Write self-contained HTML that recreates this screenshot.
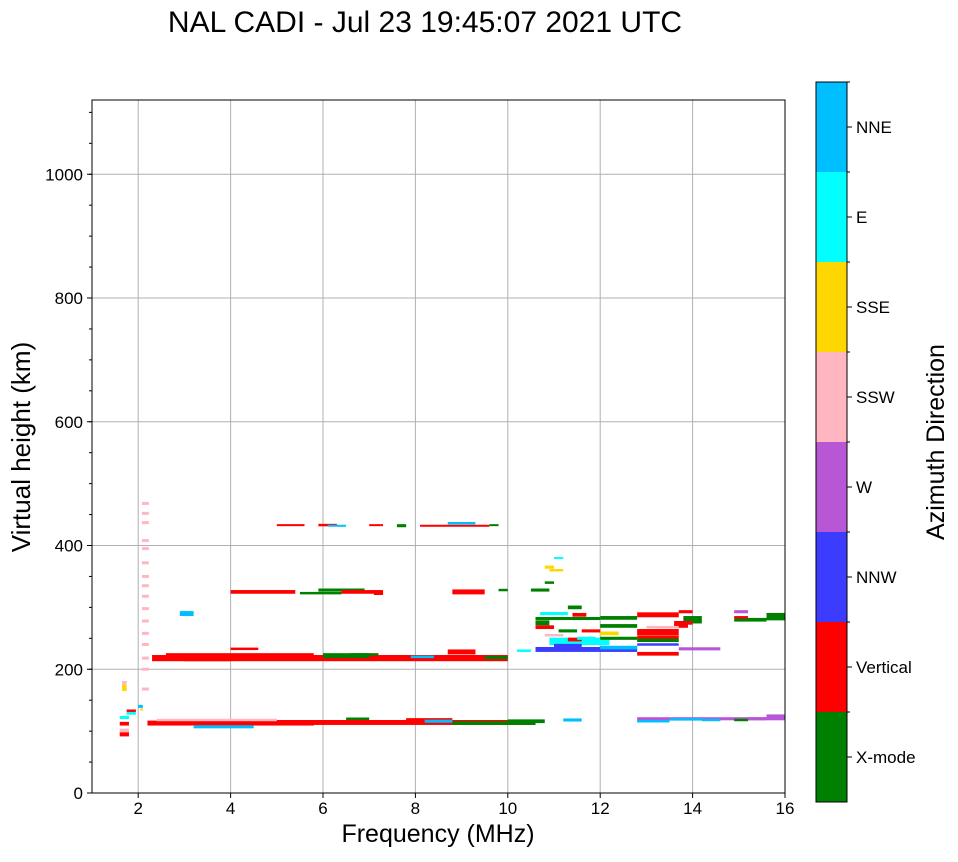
<!DOCTYPE html>
<html><head><meta charset="utf-8"><style>
body{margin:0;background:#fff;font-family:"Liberation Sans",sans-serif;}
svg text{font-family:"Liberation Sans",sans-serif;}
</style></head><body>
<svg id="c" width="958" height="857">
<text x="425" y="32" font-size="30" text-anchor="middle">NAL CADI - Jul 23 19:45:07 2021 UTC</text>
<g id="grid"></g><g id="marks"></g><g id="axes"></g><g id="cbar"></g>
</svg>
<script>
const xTicks=[2,4,6,8,10,12,14,16];
const yTicks=[0,200,400,600,800,1000];
const directions=["X-mode","Vertical","NNW","W","SSW","SSE","E","NNE"];
const dirColors=["#008000","#ff0000","#3c3cff","#b857d6","#ffb6c1","#ffd700","#00ffff","#00bfff"];
// segments: freq start, freq end, height (km), thickness (km), direction index
const segF0=[2.2,3.2,4.5,2.4,6.5,10.0,7.8,8.2,8.8,11.2,12.8,12.8,13.5,14.2,14.9,15.2,15.6,13.5,
1.6,1.6,1.6,1.6,1.65,1.65,1.75,1.75,2.0,2.05,
2.3,2.6,3.0,4.0,6.0,8.7,6.6,7.9,9.5,2.9,
3.0,4.0,5.9,6.4,8.8,7.1,5.5,9.8,10.5,
5.0,5.9,6.1,7.0,8.1,8.7,9.6,7.6,
10.6,10.9,11.0,12.0,12.8,12.8,12.8,13.7,12.0,12.0,13.8,14.9,15.6,12.8,10.8,10.6,11.3,10.2,13.7,14.9,10.8,11.0,11.3,12.0,13.6,10.8,10.9,
10.6,11.4,12.0,12.8,13.6,13.0,10.6,11.1,11.6,12.8,14.9,10.7,11.5];
const segF1=[5.8,4.5,10.6,5.0,7.0,10.8,8.8,8.8,10.6,11.6,13.5,13.5,16.0,14.6,15.2,15.6,16.0,14.2,
1.8,1.8,1.8,1.8,1.75,1.75,1.95,1.95,2.1,2.1,
10.0,5.8,4.0,4.6,7.0,9.3,7.2,8.4,10.0,3.1,
3.2,5.4,6.9,7.3,9.5,7.3,6.4,10.0,10.9,
5.6,6.3,6.5,7.3,9.6,9.3,9.8,7.8,
12.8,12.2,11.6,12.8,13.7,13.7,13.7,14.6,12.8,12.8,14.2,15.6,16.0,13.7,11.2,10.9,11.6,10.5,14.0,15.2,11.0,11.2,11.6,12.4,13.9,11.0,11.2,
12.0,11.7,12.8,13.7,14.0,13.7,11.0,11.5,12.0,13.7,15.2,11.3,11.9];
const segH=[113,107,114,118,120,116,118,116,113,118,120,116,120,118,118,120,124,119,
95,101,112,122,170,178,129,133,140,135,
218,222,216,233,222,228,224,220,219,290,
290,325,328,325,325,322,323,328,328,
433,433,432,433,432,436,433,432,
232,245,238,283,288,260,225,233,235,270,280,280,285,240,255,275,248,230,293,293,365,380,300,258,270,340,360,
282,288,250,247,275,268,268,262,262,252,284,290,250];
const segDH=[8,5,8,4,4,6,6,5,6,5,5,4,5,4,4,5,6,4,
7,6,6,5,10,6,5,4,5,4,
10,8,6,4,8,8,4,4,5,8,
8,6,5,6,8,4,4,4,5,
3,4,3,3,3,4,3,5,
8,12,6,6,8,10,6,5,6,6,12,6,12,4,4,8,6,4,5,5,5,3,6,6,6,4,4,
5,6,5,6,6,4,6,5,5,5,4,5,5];
const segC=[1,7,1,4,0,0,1,7,0,7,3,7,3,7,0,3,3,7,
1,4,1,6,5,4,6,1,7,5,
1,1,1,1,0,1,0,7,0,7,
7,1,0,1,1,1,0,0,0,
1,1,7,1,1,7,0,0,
2,6,2,0,1,1,1,3,7,0,0,0,0,2,4,0,1,6,1,3,5,6,0,5,1,0,5,
0,1,0,0,1,4,1,0,1,1,1,6,6];
const NS="http://www.w3.org/2000/svg";
const L=92,R=785,T=100,B=793,fMin=1,fMax=16,hMin=0,hMax=1120;
const xs=f=>L+(f-fMin)/(fMax-fMin)*(R-L);
const ys=h=>B-(h-hMin)/(hMax-hMin)*(B-T);
function mk(tag,at,parent){const e=document.createElementNS(NS,tag);for(const k in at)e.setAttribute(k,at[k]);parent.appendChild(e);return e;}
const grid=document.getElementById('grid'),marks=document.getElementById('marks'),axes=document.getElementById('axes'),cb=document.getElementById('cbar');
xTicks.forEach(t=>{const l=mk('line',{x1:xs(t),x2:xs(t),y1:T,y2:B,stroke:'#b0b0b0','stroke-width':1},grid);

});
yTicks.forEach(t=>{const l=mk('line',{x1:L,x2:R,y1:ys(t),y2:ys(t),stroke:'#b0b0b0','stroke-width':1},grid);

});
for(let i=0;i<segF0.length;i++){
 const y1=ys(segH[i]+segDH[i]/2),y2=ys(segH[i]-segDH[i]/2);
 const r=mk('rect',{x:xs(segF0[i]),y:y1,width:Math.max(2,xs(segF1[i])-xs(segF0[i])),height:Math.max(2,y2-y1),fill:dirColors[segC[i]]},marks);
 
 
}
const dashH=[168,200,218,240,258,278,298,318,335,350,372,395,408,437,452,468];
dashH.forEach(h=>{const r=mk('rect',{x:xs(2.08),y:ys(h)-1.5,width:7,height:3,fill:dirColors[4]},marks);

});
const fr=mk('rect',{x:L,y:T,width:R-L,height:B-T,fill:'none',stroke:'#000','stroke-width':1},axes);


xTicks.forEach(t=>{mk('line',{x1:xs(t),x2:xs(t),y1:B,y2:B+5,stroke:'#000'},axes);
 const tx=mk('text',{x:xs(t),y:B+21,'font-size':17,'text-anchor':'middle'},axes);tx.textContent=t;
 
 });
for(let h=50;h<hMax;h+=50){mk('line',{x1:L-3,x2:L,y1:ys(h),y2:ys(h),stroke:'#000'},axes);}
yTicks.forEach(t=>{mk('line',{x1:L-5,x2:L,y1:ys(t),y2:ys(t),stroke:'#000'},axes);
 const tx=mk('text',{x:L-9,y:ys(t)+6,'font-size':17,'text-anchor':'end'},axes);tx.textContent=t;
 
 });
const xl=mk('text',{x:438,y:842,'font-size':25,'text-anchor':'middle'},axes);xl.textContent='Frequency (MHz)';


const yl=mk('text',{x:0,y:0,'font-size':26,'text-anchor':'middle',transform:'translate(30,447) rotate(-90)'},axes);yl.textContent='Virtual height (km)';


const cT=82,cB=802,cL=816,cW=31,seg=(cB-cT)/directions.length;
directions.forEach((d,i)=>{const y=cB-(i+1)*seg;
 const r=mk('rect',{x:cL,y:y,width:cW,height:seg,fill:dirColors[i]},cb);
 
 
 mk('line',{x1:cL+cW,x2:cL+cW+5,y1:y+seg/2,y2:y+seg/2,stroke:'#000'},cb);
 mk('line',{x1:cL+cW,x2:cL+cW+3,y1:y,y2:y,stroke:'#000'},cb);
 const t=mk('text',{x:cL+cW+9,y:y+seg/2+6,'font-size':17},cb);t.textContent=d;
 
 });
const cf=mk('rect',{x:cL,y:cT,width:cW,height:cB-cT,fill:'none',stroke:'#000'},cb);


const ct=mk('text',{x:0,y:0,'font-size':25,'text-anchor':'middle',transform:'translate(944,442) rotate(-90)'},cb);ct.textContent='Azimuth Direction';


</script>
</body></html>
